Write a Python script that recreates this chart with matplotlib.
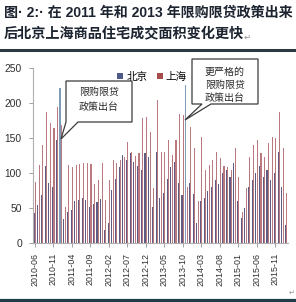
import numpy as np
import matplotlib
matplotlib.use('Agg')
import matplotlib.pyplot as plt
from matplotlib.patches import Polygon

plt.rcParams['font.family'] = ['Noto Sans CJK SC', 'DejaVu Sans']

W, H = 296, 302

# monthly data, 2010-06 .. 2016-02 (万平方米)
months = []
for y in range(2010, 2017):
    for m in range(1, 13):
        if (y, m) >= (2010, 6) and (y, m) <= (2016, 2):
            months.append('%d-%02d' % (y, m))

beijing = [43, 54, 69, 110, 86, 80, 147, 222, 35, 44,
           47, 60, 62, 64, 62, 52, 56, 58, 63, 18,
           28, 76, 92, 108, 126, 118, 128, 116, 110, 104,
           128, 123, 52, 130, 64, 71, 92, 109, 116, 86,
           69, 226, 86, 70, 28, 60, 65, 75, 80, 90,
           85, 100, 105, 95, 115, 60, 36, 50, 80, 90,
           100, 110, 95, 105, 90, 100, 130, 80, 26]
shanghai = [87, 111, 140, 187, 171, 164, 195, 168, 52, 111,
            109, 112, 113, 115, 115, 113, 85, 90, 114, 61,
            90, 118, 115, 118, 123, 144, 130, 125, 128, 178,
            180, 158, 79, 204, 130, 130, 147, 126, 147, 185,
            183, 80, 166, 136, 60, 152, 104, 111, 118, 130,
            121, 110, 108, 104, 136, 94, 45, 78, 123, 140,
            147, 128, 123, 143, 151, 150, 187, 136, 71]
policy_idx = [7, 41]  # months highlighted in the chart

series_names = ['北京', '上海']
c_bj = '#5e5c82'
c_sh = '#b9797f'
c_hi = '#7f9cb6'

def px(x, y):
    return (x / W, 1 - y / H)

fig = plt.figure(figsize=(W / 100, H / 100), dpi=100)
ax = fig.add_axes([33 / W, 1 - 243 / H, (288 - 33) / W, (243 - 68) / H])

x = np.arange(len(months))
bj_colors = [c_hi if i in policy_idx else c_bj for i in x]
ax.bar(x - 0.19, beijing, width=0.3, color=bj_colors, label=series_names[0], linewidth=0)
ax.bar(x + 0.19, shanghai, width=0.3, color=c_sh, label=series_names[1], linewidth=0)

ax.set_xlim(-0.5, len(months) - 0.5)
ax.set_ylim(0, 250)
ax.set_yticks(range(0, 251, 50))
ax.set_xticks(x[::5])
ax.set_xticklabels(months[::5], rotation=90, fontsize=6.4, family='Liberation Sans', color='#303030')
for t in ax.get_yticklabels():
    t.set_fontsize(7.4)
    t.set_family('Liberation Sans')
    t.set_color('#303030')
ax.tick_params(axis='both', length=3, width=0.7, color='#a0a0a0')
ax.tick_params(axis='y', pad=5)
ax.tick_params(axis='x', pad=4)
for s in ['top', 'right']:
    ax.spines[s].set_visible(False)
for s in ['left', 'bottom']:
    ax.spines[s].set_color('#b0b0b0')
    ax.spines[s].set_linewidth(0.8)

# legend
h, l = ax.get_legend_handles_labels()
leg = ax.legend(h, l, loc='upper left', bbox_to_anchor=((112 - 33) / 255, 1.01), ncol=2,
                frameon=False, fontsize=7.6, handlelength=0.55, handleheight=0.55,
                handletextpad=0.3, columnspacing=0.9, borderpad=0)
leg.legend_handles[0].set_color('#4d5a8c')
leg.legend_handles[1].set_color('#a84c4c')

# callouts
def callout(x0, y0, x1, y1, ta, tb, tip, lines, ys):
    pts = [(x0, y0), (x1, y0), (x1, y1), (tb, y1), tip, (ta, y1), (x0, y1)]
    poly = Polygon([px(a, b) for a, b in pts], closed=True, transform=fig.transFigure,
                   facecolor='white', edgecolor='#3c3c3c', linewidth=0.9, zorder=5)
    fig.add_artist(poly)
    for txt, yy in zip(lines, ys):
        fig.text(*px((x0 + x1) / 2, yy), txt, ha='center', va='center',
                 fontsize=7.2, color='#2a2a2a', zorder=6)

callout(66, 81, 132, 122, 66, 78, (61, 139), ['限购限贷', '政策出台'], [92, 107])
callout(192, 59, 258, 104, 202, 211, (185, 120), ['更严格的', '限购限贷', '政策出台'], [72, 85, 98])

# title
fig.text(*px(4, 13), '图· 2:· 在 2011 年和 2013 年限购限贷政策出来', ha='left', va='center',
         fontsize=10.1, fontweight='bold', color='#1c2430',
         family=['Liberation Sans', 'Noto Sans CJK SC'])
fig.text(*px(4, 34), '后北京上海商品住宅成交面积变化更快', ha='left', va='center',
         fontsize=10.2, fontweight='bold', color='#1c2430')
fig.text(*px(244, 37), '↵', ha='left', va='center', fontsize=6, color='#909090',
         family=['DejaVu Sans'])
fig.text(*px(289, 293), '↵', ha='left', va='center', fontsize=5, color='#909090',
         family=['DejaVu Sans'])

# separator lines
fig.add_artist(plt.Line2D([0, 1], [1 - 50 / H] * 2, transform=fig.transFigure, color='#2e3a42', lw=2.2))
fig.add_artist(plt.Line2D([0, 1], [1 - 300.5 / H] * 2, transform=fig.transFigure, color='#1f3c48', lw=3))

fig.savefig('out.png', dpi=100)
